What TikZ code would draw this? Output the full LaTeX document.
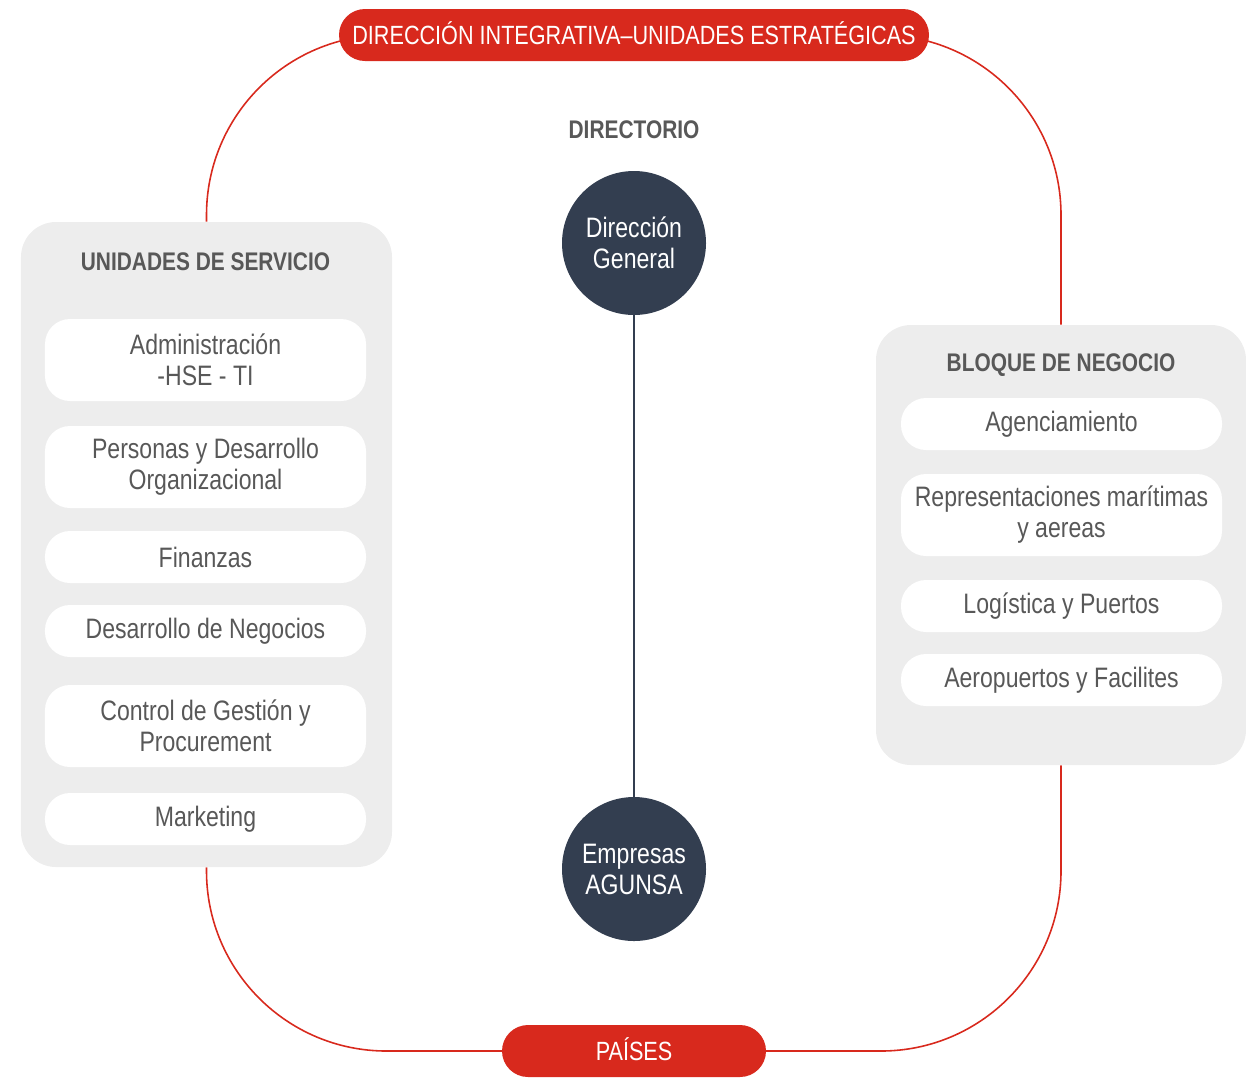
\documentclass[tikz,border=0pt]{standalone}
\usepackage{fontspec}
\setmainfont[FakeStretch=0.82]{Liberation Sans}
\usetikzlibrary{positioning, backgrounds}
\definecolor{agred}{HTML}{D8291D}
\definecolor{agnavy}{HTML}{333E50}
\definecolor{agpanel}{HTML}{EDEDED}
\definecolor{agtext}{HTML}{585858}

\tikzset{
  panel/.style={fill=agpanel, rounded corners=7mm, inner sep=0pt},
  unitbox/.style={fill=white, rounded corners=5mm, minimum width=64.2mm, inner sep=0pt,
    text=agtext, align=center, font=\fontsize{16}{17.6}\selectfont},
  paneltitle/.style={text=agtext, font=\bfseries\fontsize{14.5}{16}\selectfont},
  pill/.style={fill=agred, text=white, rounded corners=5.2mm, minimum height=10.4mm,
    inner sep=0pt, text height=3.7mm, text depth=0pt, font=\fontsize{15}{16}\selectfont},
  hubnode/.style={circle, fill=agnavy, text=white, minimum size=28.8mm, inner sep=0pt,
    align=center, font=\fontsize{16}{17.6}\selectfont},
  redline/.style={draw=agred, line width=0.9pt, rounded corners=36mm},
}

\begin{document}
\begin{tikzpicture}[x=0.2mm, y=-0.2mm]
\useasboundingbox (0,0) rectangle (1246,1079);

% Red labels
\node[pill, minimum width=118mm] (integra) at (634,35) {DIRECCIÓN INTEGRATIVA–UNIDADES ESTRATÉGICAS};
\node[pill, minimum width=52.8mm] (paises) at (634,1051) {PAÍSES};

% Service units
\node[panel, minimum width=74.2mm, minimum height=129mm] (servicio) at (206.5,544.5) {};
\node[paneltitle] at (205.5,262) {UNIDADES DE SERVICIO};
\foreach \i/\y/\h/\t in {1/360/16.4mm/{Administración\\-HSE - TI},
                         2/467/16.4mm/{Personas y Desarrollo\\Organizacional},
                         3/557/10.4mm/{Finanzas},
                         4/631/10.4mm/{Desarrollo de Negocios},
                         5/726/16.4mm/{Control de Gestión y\\Procurement},
                         6/819/10.4mm/{Marketing}} {
  \node[unitbox, minimum height=\h] (serv\i) at (205.5,\y) {\t};
}

% Business block
\node[panel, minimum width=74mm, minimum height=88mm] (negocio) at (1061,545) {};
\node[paneltitle] at (1061,365) {BLOQUE DE NEGOCIO};
\foreach \i/\y/\h/\t in {1/424/10.4mm/{Agenciamiento},
                         2/515/16.4mm/{Representaciones marítimas\\y aereas},
                         3/606/10.4mm/{Logística y Puertos},
                         4/680/10.4mm/{Aeropuertos y Facilites}} {
  \node[unitbox, minimum height=\h] (neg\i) at (1061.5,\y) {\t};
}

% Board
\node[paneltitle] at (634,130) {DIRECTORIO};
\node[hubnode] (direccion) at (634,243) {Dirección\\General};
\node[hubnode] (empresas) at (634,869) {Empresas\\AGUNSA};
\draw[agnavy, line width=1.1pt] (direccion) -- (empresas);

% Red frame
\begin{scope}[on background layer]
\draw[redline] (integra.center) -| (servicio.north);
\draw[redline] (integra.center) -| (negocio.north);
\draw[redline] (servicio.south) |- (paises.center);
\draw[redline] (negocio.south) |- (paises.center);
\end{scope}
\end{tikzpicture}
\end{document}
